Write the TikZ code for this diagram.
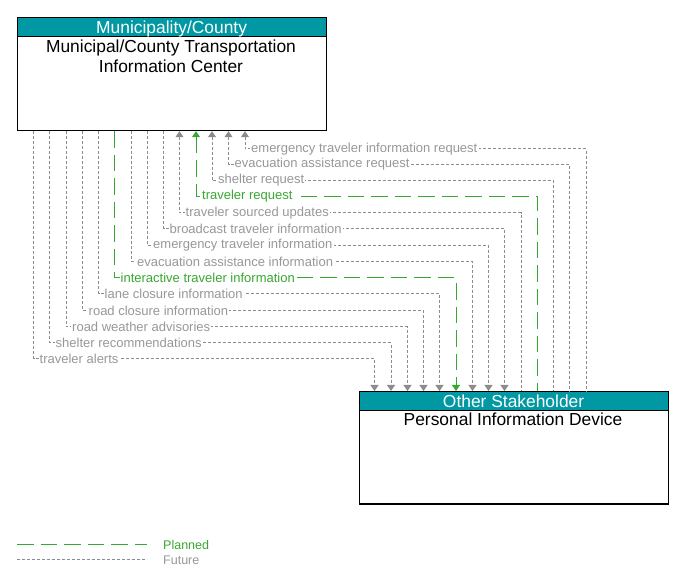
\documentclass[tikz,border=0pt]{standalone}
\usepackage{fontspec}
\setmainfont{Liberation Sans}
\usetikzlibrary{arrows.meta}
\definecolor{hdr}{RGB}{0,152,163}
\definecolor{fgray}{RGB}{152,152,152}
\definecolor{flgray}{RGB}{140,140,140}
\definecolor{pgreen}{RGB}{56,168,48}
\begin{document}
\begin{tikzpicture}[x=1pt,y=-1pt,
  box/.style={draw=black, line width=1.2pt, fill=white, minimum width=309pt, inner sep=0pt, anchor=north west},
  hdrbox/.style={draw=black, line width=1.2pt, fill=hdr, minimum width=309pt, minimum height=19pt, inner sep=0pt, anchor=north west, text=white, font=\fontsize{17.4}{20}\selectfont, text height=13.6pt, text depth=0pt},
  ttl/.style={font=\fontsize{17.4}{20}\selectfont, anchor=base, inner sep=0pt},
  fut/.style={draw=flgray, line width=1pt, dash pattern=on 3pt off 2pt},
  pln/.style={draw=pgreen, line width=1pt, dash pattern=on 16.5pt off 7pt},
  upa/.style={{Triangle[width=8pt,length=6pt]}-},
  dna/.style={-{Triangle[width=8pt,length=6pt]}},
  lbl/.style={font=\fontsize{13}{15}\selectfont, fill=white, inner xsep=1.2pt, inner ysep=0.5pt, anchor=west, xshift=4.5pt},
  flbl/.style={lbl, text=fgray},
  plbl/.style={lbl, text=pgreen},
  leg/.style={font=\fontsize{12.5}{15}\selectfont, anchor=west, inner sep=0pt}
]
\useasboundingbox (0,0) rectangle (681,585);

% boxes
\node[box, minimum height=113pt] (mc) at (16.5,17) {};
\node[hdrbox] (mch) at (16.5,17) {Municipality/County};
\node[ttl] (mct1) at (171,52.7) {Municipal/County Transportation};
\node[ttl] (mct2) at (171,72.7) {Information Center};

\node[box, minimum height=112.5pt] (pid) at (358.5,391) {};
\node[hdrbox] (pidh) at (358.5,391) {Other Stakeholder};
\node[ttl] (pidt) at (513,425.8) {Personal Information Device};

% flows into the top box
\draw[fut,upa] (245,0 |- mc.south) |- node[flbl] {emergency traveler information request} (586,149) -- (586,0 |- pid.north);
\draw[fut,upa] (228.5,0 |- mc.south) |- node[flbl] {evacuation assistance request} (569.5,164.5) -- (569.5,0 |- pid.north);
\draw[fut,upa] (212,0 |- mc.south) |- node[flbl] {shelter request} (553.5,180.5) -- (553.5,0 |- pid.north);
\draw[pln,upa] (196,0 |- mc.south) |- node[plbl] {traveler request} (537.5,196.5) -- (537.5,0 |- pid.north);
\draw[fut,upa] (179.5,0 |- mc.south) |- node[flbl] {traveler sourced updates} (521,213) -- (521,0 |- pid.north);

% flows into the bottom box
\draw[fut,dna] (163.5,0 |- mc.south) |- node[flbl] {broadcast traveler information} (504.5,229) -- (504.5,0 |- pid.north);
\draw[fut,dna] (147,0 |- mc.south) |- node[flbl] {emergency traveler information} (488.5,245.5) -- (488.5,0 |- pid.north);
\draw[fut,dna] (131,0 |- mc.south) |- node[flbl] {evacuation assistance information} (472.5,261.5) -- (472.5,0 |- pid.north);
\draw[pln,dna] (114.5,0 |- mc.south) |- node[plbl] {interactive traveler information} (456,278) -- (456,0 |- pid.north);
\draw[fut,dna] (98.5,0 |- mc.south) |- node[flbl] {lane closure information} (439.5,294) -- (439.5,0 |- pid.north);
\draw[fut,dna] (82.5,0 |- mc.south) |- node[flbl] {road closure information} (423.5,310.5) -- (423.5,0 |- pid.north);
\draw[fut,dna] (66,0 |- mc.south) |- node[flbl] {road weather advisories} (407.5,327) -- (407.5,0 |- pid.north);
\draw[fut,dna] (49.5,0 |- mc.south) |- node[flbl] {shelter recommendations} (391,343) -- (391,0 |- pid.north);
\draw[fut,dna] (33.5,0 |- mc.south) |- node[flbl] {traveler alerts} (374.5,359) -- (374.5,0 |- pid.north);

% legend
\coordinate (lp1) at (17,545);
\coordinate (lp2) at (147,545);
\coordinate (lf1) at (17,560);
\coordinate (lf2) at (147,560);
\draw[pln] (lp1) -- (lp2);
\draw[fut] (lf1) -- (lf2);
\node[leg, text=pgreen] (lgp) at (163,545) {Planned};
\node[leg, text=fgray] (lgf) at (163,560.5) {Future};
\end{tikzpicture}
\end{document}
